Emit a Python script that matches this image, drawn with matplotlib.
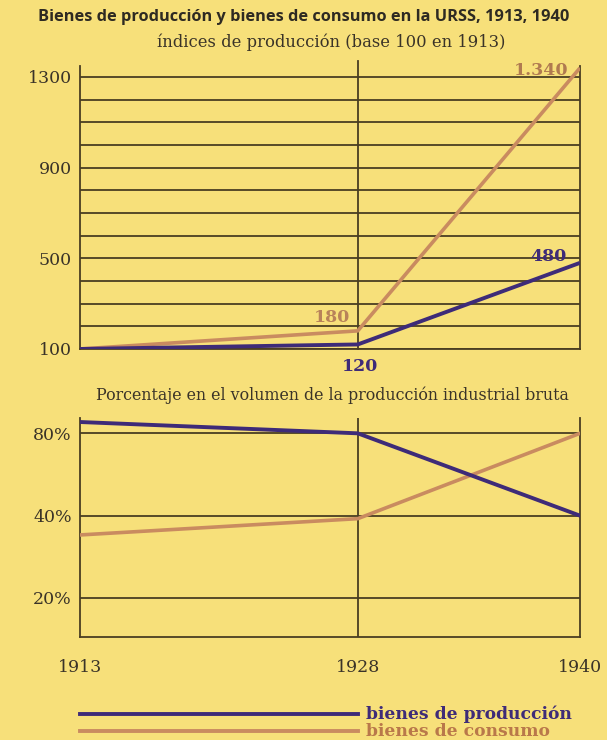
import matplotlib
matplotlib.use("Agg")
import matplotlib.pyplot as plt
from matplotlib.lines import Line2D
from matplotlib.ticker import FixedLocator, NullLocator

# ---- data ----
years = [1913, 1928, 1940]
year_labels = ["1913", "1928", "1940"]
idx_production = [100, 120, 480]
idx_consumption = [100, 180, 1340]
idx_ticks = [100, 500, 900, 1300]
idx_grid = list(range(100, 1400, 100))
pct_production = [88, 80, 40]
pct_consumption = [34, 39, 80]
pct_ticks = [20, 40, 80]
pct_tick_labels = ["20%", "40%", "80%"]
series_names = ["bienes de producción", "bienes de consumo"]

BG = "#F7E07A"
GRID = "#4A3E22"
PURPLE = "#3E2B78"
ORANGE = "#C98B60"
TXT = "#3A3328"
SERIF = "DejaVu Serif"
SANS = "Open Sans"

fig = plt.figure(figsize=(6.07, 7.40), dpi=100)
fig.patch.set_facecolor(BG)

# ---- top chart ----
ax1 = fig.add_axes([0.1318, 0.5284, 0.8237, 0.3829])
ax1.set_facecolor(BG)
ax1.set_xlim(1913, 1940)
ax1.set_ylim(100, 1350)
for y in idx_grid:
    ax1.axhline(y, color=GRID, lw=1.3, zorder=1)
ax1.axvline(1928, ymin=0, ymax=1.015, color=GRID, lw=1.3, zorder=1, clip_on=False)
ax1.plot(years, idx_consumption, color=ORANGE, lw=2.6, zorder=3, solid_capstyle="butt")
ax1.plot(years, idx_production, color=PURPLE, lw=2.8, zorder=4, solid_capstyle="butt")
ax1.spines["top"].set_visible(False)
for s in ["left", "right", "bottom"]:
    ax1.spines[s].set_color(GRID)
    ax1.spines[s].set_linewidth(1.3)
ax1.xaxis.set_major_locator(NullLocator())
ax1.yaxis.set_major_locator(FixedLocator(idx_ticks))
ax1.set_yticklabels([str(v) for v in idx_ticks], fontfamily=SERIF, fontsize=12.5, color=TXT)
ax1.tick_params(axis="y", length=0, pad=6)

ax1.text(1926.6, idx_consumption[1] + 22, "180", color="#B8825A", fontfamily=SERIF,
         fontweight="bold", fontsize=12.5, ha="center", va="bottom")
ax1.text(1928.1, idx_production[1] - 60, "120", color=PURPLE, fontfamily=SERIF,
         fontweight="bold", fontsize=12.5, ha="center", va="top")
ax1.text(1938.3, idx_production[2] - 10, "480", color=PURPLE, fontfamily=SERIF,
         fontweight="bold", fontsize=12.5, ha="center", va="bottom")
ax1.text(1937.9, idx_consumption[2] - 50, "1.340", color="#B07A50", fontfamily=SERIF,
         fontweight="bold", fontsize=12.5, ha="center", va="bottom", zorder=2)

# ---- bottom chart ----
ax2 = fig.add_axes([0.1318, 0.1392, 0.8237, 0.2959])
ax2.set_facecolor(BG)
ax2.set_yscale("log")
ax2.set_xlim(1913, 1940)
ax2.set_ylim(14.4, 91)
for y in pct_ticks:
    ax2.axhline(y, color=GRID, lw=1.3, zorder=1)
ax2.axvline(1928, color=GRID, lw=1.3, zorder=1)
ax2.plot(years, pct_consumption, color=ORANGE, lw=2.6, zorder=3)
ax2.plot(years, pct_production, color=PURPLE, lw=2.8, zorder=4)
ax2.spines["top"].set_visible(False)
for s in ["left", "right", "bottom"]:
    ax2.spines[s].set_color(GRID)
    ax2.spines[s].set_linewidth(1.3)
ax2.yaxis.set_major_locator(FixedLocator(pct_ticks))
ax2.yaxis.set_minor_locator(NullLocator())
ax2.set_yticklabels(pct_tick_labels, fontfamily=SERIF, fontsize=12.5, color=TXT)
ax2.xaxis.set_major_locator(FixedLocator(years))
ax2.set_xticklabels(year_labels, fontfamily=SERIF, fontsize=12.5, color=TXT)
ax2.tick_params(axis="y", length=0, pad=6)
ax2.tick_params(axis="x", length=0, pad=16)

# ---- titles ----
fig.text(0.5, 1 - 17 / 740, "Bienes de producción y bienes de consumo en la URSS, 1913, 1940",
         fontfamily=SANS, fontweight="bold", fontsize=11.8, color="#2E2A22",
         ha="center", va="center")
fig.text(0.545, 1 - 42 / 740, "índices de producción (base 100 en 1913)",
         fontfamily=SERIF, fontsize=11.8, color=TXT, ha="center", va="center")
fig.text(0.547, 1 - 395 / 740, "Porcentaje en el volumen de la producción industrial bruta",
         fontfamily=SERIF, fontsize=11.4, color=TXT, ha="center", va="center")

# ---- legend ----
legend_colors = [PURPLE, ORANGE]
legend_text_colors = [PURPLE, "#B9784A"]
legend_y = [714, 731]
for name, c, tc, yy in zip(series_names, legend_colors, legend_text_colors, legend_y):
    fy = 1 - yy / 740
    fig.add_artist(Line2D([80 / 607, 358 / 607], [fy, fy], color=c, lw=2.8,
                          transform=fig.transFigure))
    fig.text(366 / 607, fy, name, fontfamily=SERIF, fontweight="bold", fontsize=12.3,
             color=tc, ha="left", va="center")

fig.savefig("out.png", dpi=100, facecolor=BG)
